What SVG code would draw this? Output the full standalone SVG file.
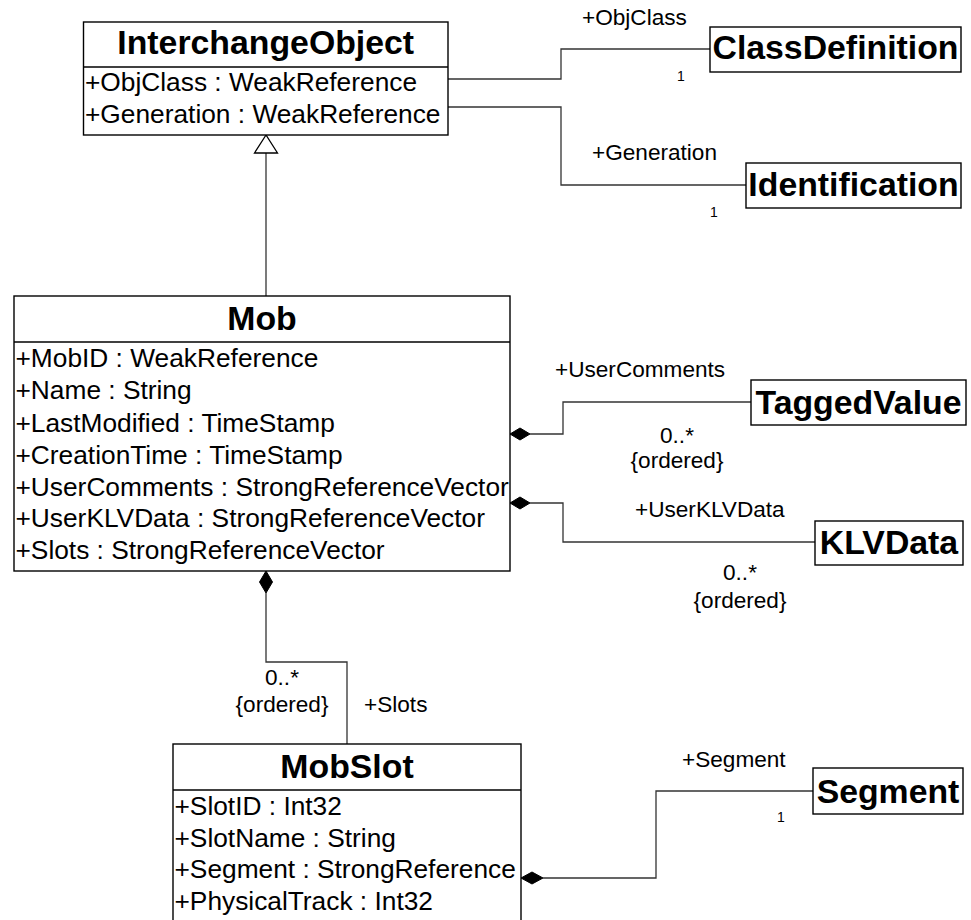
<svg xmlns="http://www.w3.org/2000/svg" width="971" height="920" viewBox="0 0 971 920">
<style>
.box{fill:#fff;stroke:#000;stroke-width:1.4}
.div{stroke:#000;stroke-width:1.4}
.title{font-family:"Liberation Sans",Arial,sans-serif;font-weight:bold;font-size:33.8px;text-anchor:middle;fill:#000}
.attr{font-family:"Liberation Sans",Arial,sans-serif;font-size:26.3px;fill:#000}
.lbl{font-family:"Liberation Sans",Arial,sans-serif;font-size:22.6px;fill:#000}
.mid{text-anchor:middle}
.small{font-family:"Liberation Sans",Arial,sans-serif;font-size:14px;fill:#000;text-anchor:middle}
.conn{fill:none;stroke:#333;stroke-width:1.3}
.dia{fill:#000;stroke:#000;stroke-width:1}
.tri{fill:#fff;stroke:#000;stroke-width:1.3}
</style>
<rect width="971" height="920" fill="#fff"/>
<g id="connectors">
  <path class="conn" d="M266,153 V296"/>
  <polygon class="tri" points="266,135 254.5,153 277.5,153"/>
  <path class="conn" d="M448,79 H561 V49 H710"/>
  <path class="conn" d="M448,107 H561 V185 H746"/>
  <path class="conn" d="M530,434 H563 V402 H751"/>
  <polygon class="dia" points="510,434 520,428 530,434 520,440"/>
  <path class="conn" d="M530,503 H563 V542 H815"/>
  <polygon class="dia" points="510,503 520,497 530,503 520,509"/>
  <path class="conn" d="M266,593 V662 H347 V744"/>
  <polygon class="dia" points="266,571 272.5,582 266,593 259.5,582"/>
  <path class="conn" d="M543,878 H656 V791 H813"/>
  <polygon class="dia" points="521,878 532,872 543,878 532,884"/>
  <text class="lbl" x="582" y="25">+ObjClass</text>
  <text class="small" x="681" y="81">1</text>
  <text class="lbl" x="592" y="160">+Generation</text>
  <text class="small" x="714" y="217">1</text>
  <text class="lbl" x="555" y="377">+UserComments</text>
  <text class="lbl mid" x="677" y="443">0..*</text>
  <text class="lbl mid" x="677" y="468">{ordered}</text>
  <text class="lbl" x="635" y="517">+UserKLVData</text>
  <text class="lbl mid" x="740" y="580">0..*</text>
  <text class="lbl mid" x="740" y="608">{ordered}</text>
  <text class="lbl mid" x="282" y="685">0..*</text>
  <text class="lbl mid" x="282" y="712">{ordered}</text>
  <text class="lbl" x="364" y="712">+Slots</text>
  <text class="lbl" x="682" y="767">+Segment</text>
  <text class="small" x="781" y="822">1</text>
</g>
<g id="InterchangeObject">
  <rect class="box" x="83.5" y="22" width="364.5" height="113"/>
  <line class="div" x1="83.5" y1="67" x2="448" y2="67"/>
  <text class="title" x="265.7" y="54">InterchangeObject</text>
  <text class="attr" x="85" y="91">+ObjClass : WeakReference</text>
  <text class="attr" x="85" y="123">+Generation : WeakReference</text>
</g>
<g id="ClassDefinition">
  <rect class="box" x="710" y="27" width="251" height="45"/>
  <text class="title" x="835.5" y="59">ClassDefinition</text>
</g>
<g id="Identification">
  <rect class="box" x="746" y="163" width="215" height="45"/>
  <text class="title" x="853.5" y="196">Identification</text>
</g>
<g id="Mob">
  <rect class="box" x="14" y="296" width="496" height="275"/>
  <line class="div" x1="14" y1="342" x2="510" y2="342"/>
  <text class="title" x="262" y="330">Mob</text>
  <text class="attr" x="15.5" y="367">+MobID : WeakReference</text>
  <text class="attr" x="15.5" y="399">+Name : String</text>
  <text class="attr" x="15.5" y="432">+LastModified : TimeStamp</text>
  <text class="attr" x="15.5" y="464">+CreationTime : TimeStamp</text>
  <text class="attr" x="15.5" y="496">+UserComments : StrongReferenceVector</text>
  <text class="attr" x="15.5" y="527">+UserKLVData : StrongReferenceVector</text>
  <text class="attr" x="15.5" y="559">+Slots : StrongReferenceVector</text>
</g>
<g id="TaggedValue">
  <rect class="box" x="751" y="380" width="215" height="45"/>
  <text class="title" x="858.5" y="414">TaggedValue</text>
</g>
<g id="KLVData">
  <rect class="box" x="815" y="521" width="148" height="44"/>
  <text class="title" x="889" y="554">KLVData</text>
</g>
<g id="MobSlot">
  <rect class="box" x="173" y="744" width="348" height="190"/>
  <line class="div" x1="173" y1="790" x2="521" y2="790"/>
  <text class="title" x="347" y="778">MobSlot</text>
  <text class="attr" x="174.5" y="815">+SlotID : Int32</text>
  <text class="attr" x="174.5" y="847">+SlotName : String</text>
  <text class="attr" x="174.5" y="878">+Segment : StrongReference</text>
  <text class="attr" x="174.5" y="910">+PhysicalTrack : Int32</text>
</g>
<g id="Segment">
  <rect class="box" x="813" y="768" width="150" height="46"/>
  <text class="title" x="888" y="803">Segment</text>
</g>
</svg>
